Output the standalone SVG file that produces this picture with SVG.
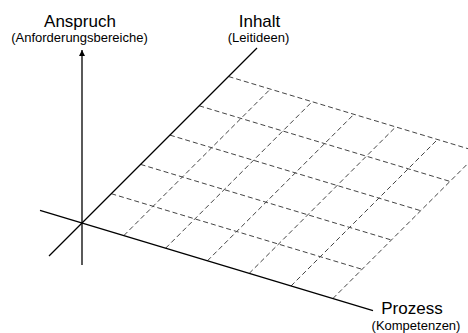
<svg xmlns="http://www.w3.org/2000/svg" width="468" height="333" viewBox="0 0 468 333">
<style>
.axis{stroke:#000;stroke-width:1.3;fill:none}
.grid{stroke:#444;stroke-width:1;stroke-dasharray:5 3;fill:none}
.t{font-family:"Liberation Sans",Arial,sans-serif;fill:#000;text-anchor:middle}
.big{font-size:17px}
.small{font-size:13px}
</style>
<defs>
<marker id="arr" viewBox="0 0 10 10" refX="10" refY="5" markerWidth="6" markerHeight="8" markerUnits="userSpaceOnUse" orient="auto">
<path d="M0,0 L10,5 L0,10 Z" fill="#000"/>
</marker>
</defs>
<rect width="468" height="333" fill="#fff"/>
<g id="grid">
<line class="grid" x1="111.3" y1="193.7" x2="362.1" y2="269.3"/>
<line class="grid" x1="140.6" y1="164.4" x2="391.4" y2="240"/>
<line class="grid" x1="169.9" y1="135.1" x2="420.7" y2="210.7"/>
<line class="grid" x1="199.2" y1="105.8" x2="450" y2="181.4"/>
<line class="grid" x1="228.5" y1="76.5" x2="479.3" y2="152.1"/>
<line class="grid" x1="123.8" y1="235.6" x2="270.3" y2="89.1"/>
<line class="grid" x1="165.6" y1="248.2" x2="312.1" y2="101.7"/>
<line class="grid" x1="207.4" y1="260.8" x2="353.9" y2="114.3"/>
<line class="grid" x1="249.2" y1="273.4" x2="395.7" y2="126.9"/>
<line class="grid" x1="291" y1="286" x2="437.5" y2="139.5"/>
<line class="grid" x1="332.8" y1="298.6" x2="479.3" y2="152.1"/>
</g>
<g id="connectors">
<line class="axis" x1="82" y1="265" x2="82" y2="50" marker-end="url(#arr)"/>
<line class="axis" x1="49" y1="256" x2="257" y2="48"/>
<line class="axis" x1="40" y1="210.3" x2="373" y2="310.7"/>
</g>
<g id="anspruch">
<text class="t big" x="80" y="27">Anspruch</text>
<text class="t small" x="79.5" y="42">(Anforderungsbereiche)</text>
</g>
<g id="inhalt">
<text class="t big" x="259.5" y="27">Inhalt</text>
<text class="t small" x="258.5" y="42">(Leitideen)</text>
</g>
<g id="prozess">
<text class="t big" x="412" y="314">Prozess</text>
<text class="t small" x="416" y="330">(Kompetenzen)</text>
</g>
</svg>
